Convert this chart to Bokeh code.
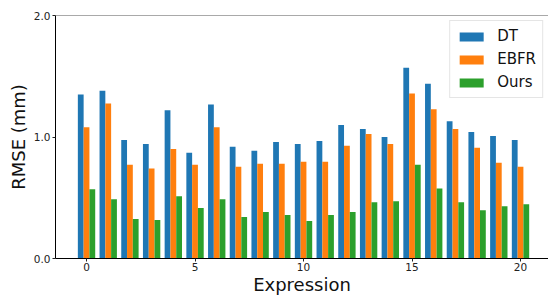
from bokeh.plotting import figure
from bokeh.models import ColumnDataSource, Range1d, FixedTicker, Span, Legend, LegendItem, PrintfTickFormatter
from bokeh.embed import file_html
from bokeh.resources import INLINE

expressions = list(range(21))
dt = [1.35, 1.38, 0.976, 0.943, 1.22, 0.87, 1.268, 0.919, 0.886, 0.959, 0.943,
      0.967, 1.098, 1.065, 1.0, 1.569, 1.439, 1.13, 1.041, 1.008, 0.976]
ebfr = [1.081, 1.276, 0.772, 0.74, 0.902, 0.772, 1.081, 0.756, 0.78, 0.78, 0.797,
        0.797, 0.927, 1.024, 0.943, 1.358, 1.228, 1.065, 0.911, 0.789, 0.756]
ours = [0.569, 0.488, 0.325, 0.317, 0.512, 0.415, 0.488, 0.341, 0.382, 0.358, 0.309,
        0.358, 0.382, 0.463, 0.472, 0.772, 0.577, 0.463, 0.398, 0.431, 0.447]
series_names = ["DT", "EBFR", "Ours"]
colors = ["#1f77b4", "#ff7f0e", "#2ca02c"]
x_title = "Expression"
y_title = "RMSE (mm)"

bw = 0.8 / 3
p = figure(width=548, height=297, output_backend="svg", toolbar_location=None,
           x_range=Range1d(-1.43, 21.29), y_range=Range1d(0, 2.0),
           min_border_left=55, min_border_top=15, min_border_bottom=36, min_border_right=0)

items = []
for i, (name, vals, c) in enumerate(zip(series_names, [dt, ebfr, ours], colors)):
    src = ColumnDataSource(dict(x=[e + (i - 1) * bw for e in expressions], top=vals))
    r = p.vbar(x="x", top="top", width=bw, bottom=0, source=src, fill_color=c, line_color=None)
    items.append(LegendItem(label=name, renderers=[r]))

p.outline_line_color = None
p.grid.visible = False
p.background_fill_color = "white"
p.border_fill_color = "white"
p.add_layout(Span(location=2.0, dimension="width", line_color="#555555", line_width=1.2))

for ax in (p.xaxis[0], p.yaxis[0]):
    ax.axis_line_color = "black"
    ax.axis_line_width = 1
    ax.major_tick_line_color = "#222222"
    ax.major_tick_out = 3
    ax.major_tick_in = 0
    ax.minor_tick_line_color = None
    ax.major_label_text_font = "DejaVu Sans"
    ax.major_label_text_font_size = "10.5px"
    ax.major_label_text_color = "#222222"
    ax.major_label_standoff = 2
    ax.axis_label_text_font = "DejaVu Sans"
    ax.axis_label_text_font_style = "normal"
    ax.axis_label_text_color = "#111111"
    ax.axis_label_text_font_size = "18px"

p.xaxis[0].ticker = FixedTicker(ticks=[0, 5, 10, 15, 20])
p.yaxis[0].ticker = FixedTicker(ticks=[0, 1, 2])
p.yaxis[0].formatter = PrintfTickFormatter(format="%.1f")
p.xaxis[0].axis_label = x_title
p.xaxis[0].axis_label_standoff = 0
p.xaxis[0].major_label_standoff = 1
p.yaxis[0].axis_label = y_title
p.yaxis[0].axis_label_standoff = 2

legend = Legend(items=items, location="top_right", margin=5, padding=6, spacing=5,
                label_text_font="DejaVu Sans", label_text_font_size="15px",
                label_text_color="#111111", glyph_width=30, glyph_height=11,
                label_standoff=11, label_height=16,
                border_line_color="#cccccc", border_line_width=1,
                background_fill_color="white", background_fill_alpha=0.85)
p.add_layout(legend)

open("out.html", "w").write(file_html(p, INLINE))
